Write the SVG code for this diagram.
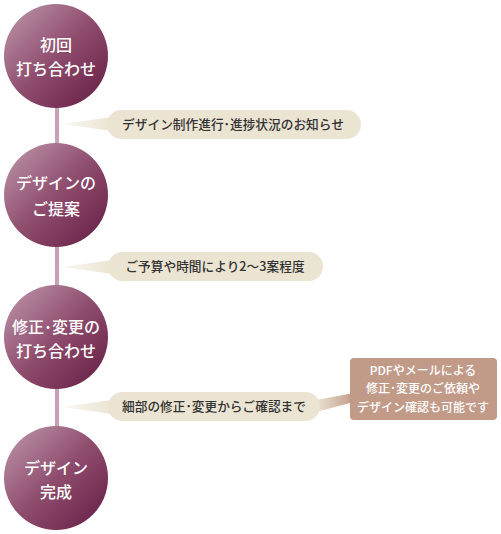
<svg xmlns="http://www.w3.org/2000/svg" width="501" height="534" viewBox="0 0 501 534">
<style>
.ct{font-family:"Noto Sans CJK JP","Noto Sans",sans-serif;font-size:16px;fill:#fff;text-anchor:middle;font-weight:500}
.bt{font-family:"Noto Sans CJK JP","Noto Sans",sans-serif;font-size:12.7px;fill:#333;text-anchor:middle;font-weight:500}
.nt{font-family:"Noto Sans CJK JP","Noto Sans",sans-serif;font-size:12px;fill:#fff;text-anchor:middle;font-weight:500}
.bub{fill:#ebe4d2}
.cir{fill:url(#cg)}
</style>
<defs>
<linearGradient id="cg" x1="0" y1="0" x2="1" y2="1">
<stop offset="0" stop-color="#c09aad"/>
<stop offset="0.5" stop-color="#8f4d6e"/>
<stop offset="1" stop-color="#641b42"/>
</linearGradient>
<linearGradient id="tg" x1="0" y1="0" x2="1" y2="0">
<stop offset="0" stop-color="#ebe4d2" stop-opacity="0.3"/>
<stop offset="1" stop-color="#ebe4d2"/>
</linearGradient>
<linearGradient id="ng" x1="0" y1="0" x2="1" y2="0">
<stop offset="0" stop-color="#ebe4d2"/>
<stop offset="1" stop-color="#c29a88"/>
</linearGradient>
</defs>
<g id="connectors">
<rect x="55" y="100" width="4" height="390" fill="#c7a2b4"/>
<polygon points="63,124 112,117 112,131" fill="url(#tg)"/>
<polygon points="63,267 112,260 112,274" fill="url(#tg)"/>
<polygon points="63,407 112,400 112,414" fill="url(#tg)"/>
<polygon points="316,400 316,412 354,402 354,393" fill="url(#ng)"/>
</g>
<g id="step1">
<circle class="cir" cx="56" cy="56" r="52"/>
<text class="ct" x="56" y="51">初回</text>
<text class="ct" x="56" y="75">打ち合わせ</text>
</g>
<g id="step2">
<circle class="cir" cx="56" cy="195" r="52"/>
<text class="ct" x="56" y="189">デザインの</text>
<text class="ct" x="56" y="215">ご提案</text>
</g>
<g id="step3">
<circle class="cir" cx="56" cy="337" r="52"/>
<text class="ct" x="56" y="333">修正･変更の</text>
<text class="ct" x="56" y="357">打ち合わせ</text>
</g>
<g id="step4">
<circle class="cir" cx="56" cy="478" r="52"/>
<text class="ct" x="56" y="474">デザイン</text>
<text class="ct" x="56" y="498">完成</text>
</g>
<g id="note1">
<rect class="bub" x="107" y="110" width="254" height="29" rx="14.5"/>
<text class="bt" x="233" y="129">デザイン制作進行･進捗状況のお知らせ</text>
</g>
<g id="note2">
<rect class="bub" x="108" y="252" width="215" height="29" rx="14.5"/>
<text class="bt" x="215" y="271">ご予算や時間により2〜3案程度</text>
</g>
<g id="note3">
<rect class="bub" x="108" y="392" width="212" height="29" rx="14.5"/>
<text class="bt" x="214" y="411">細部の修正･変更からご確認まで</text>
</g>
<g id="note4">
<rect x="350" y="358" width="147" height="62" rx="4" fill="#c29a88"/>
<text class="nt" x="423" y="375">PDFやメールによる</text>
<text class="nt" x="423" y="393">修正･変更のご依頼や</text>
<text class="nt" x="423" y="412">デザイン確認も可能です</text>
</g>
</svg>
